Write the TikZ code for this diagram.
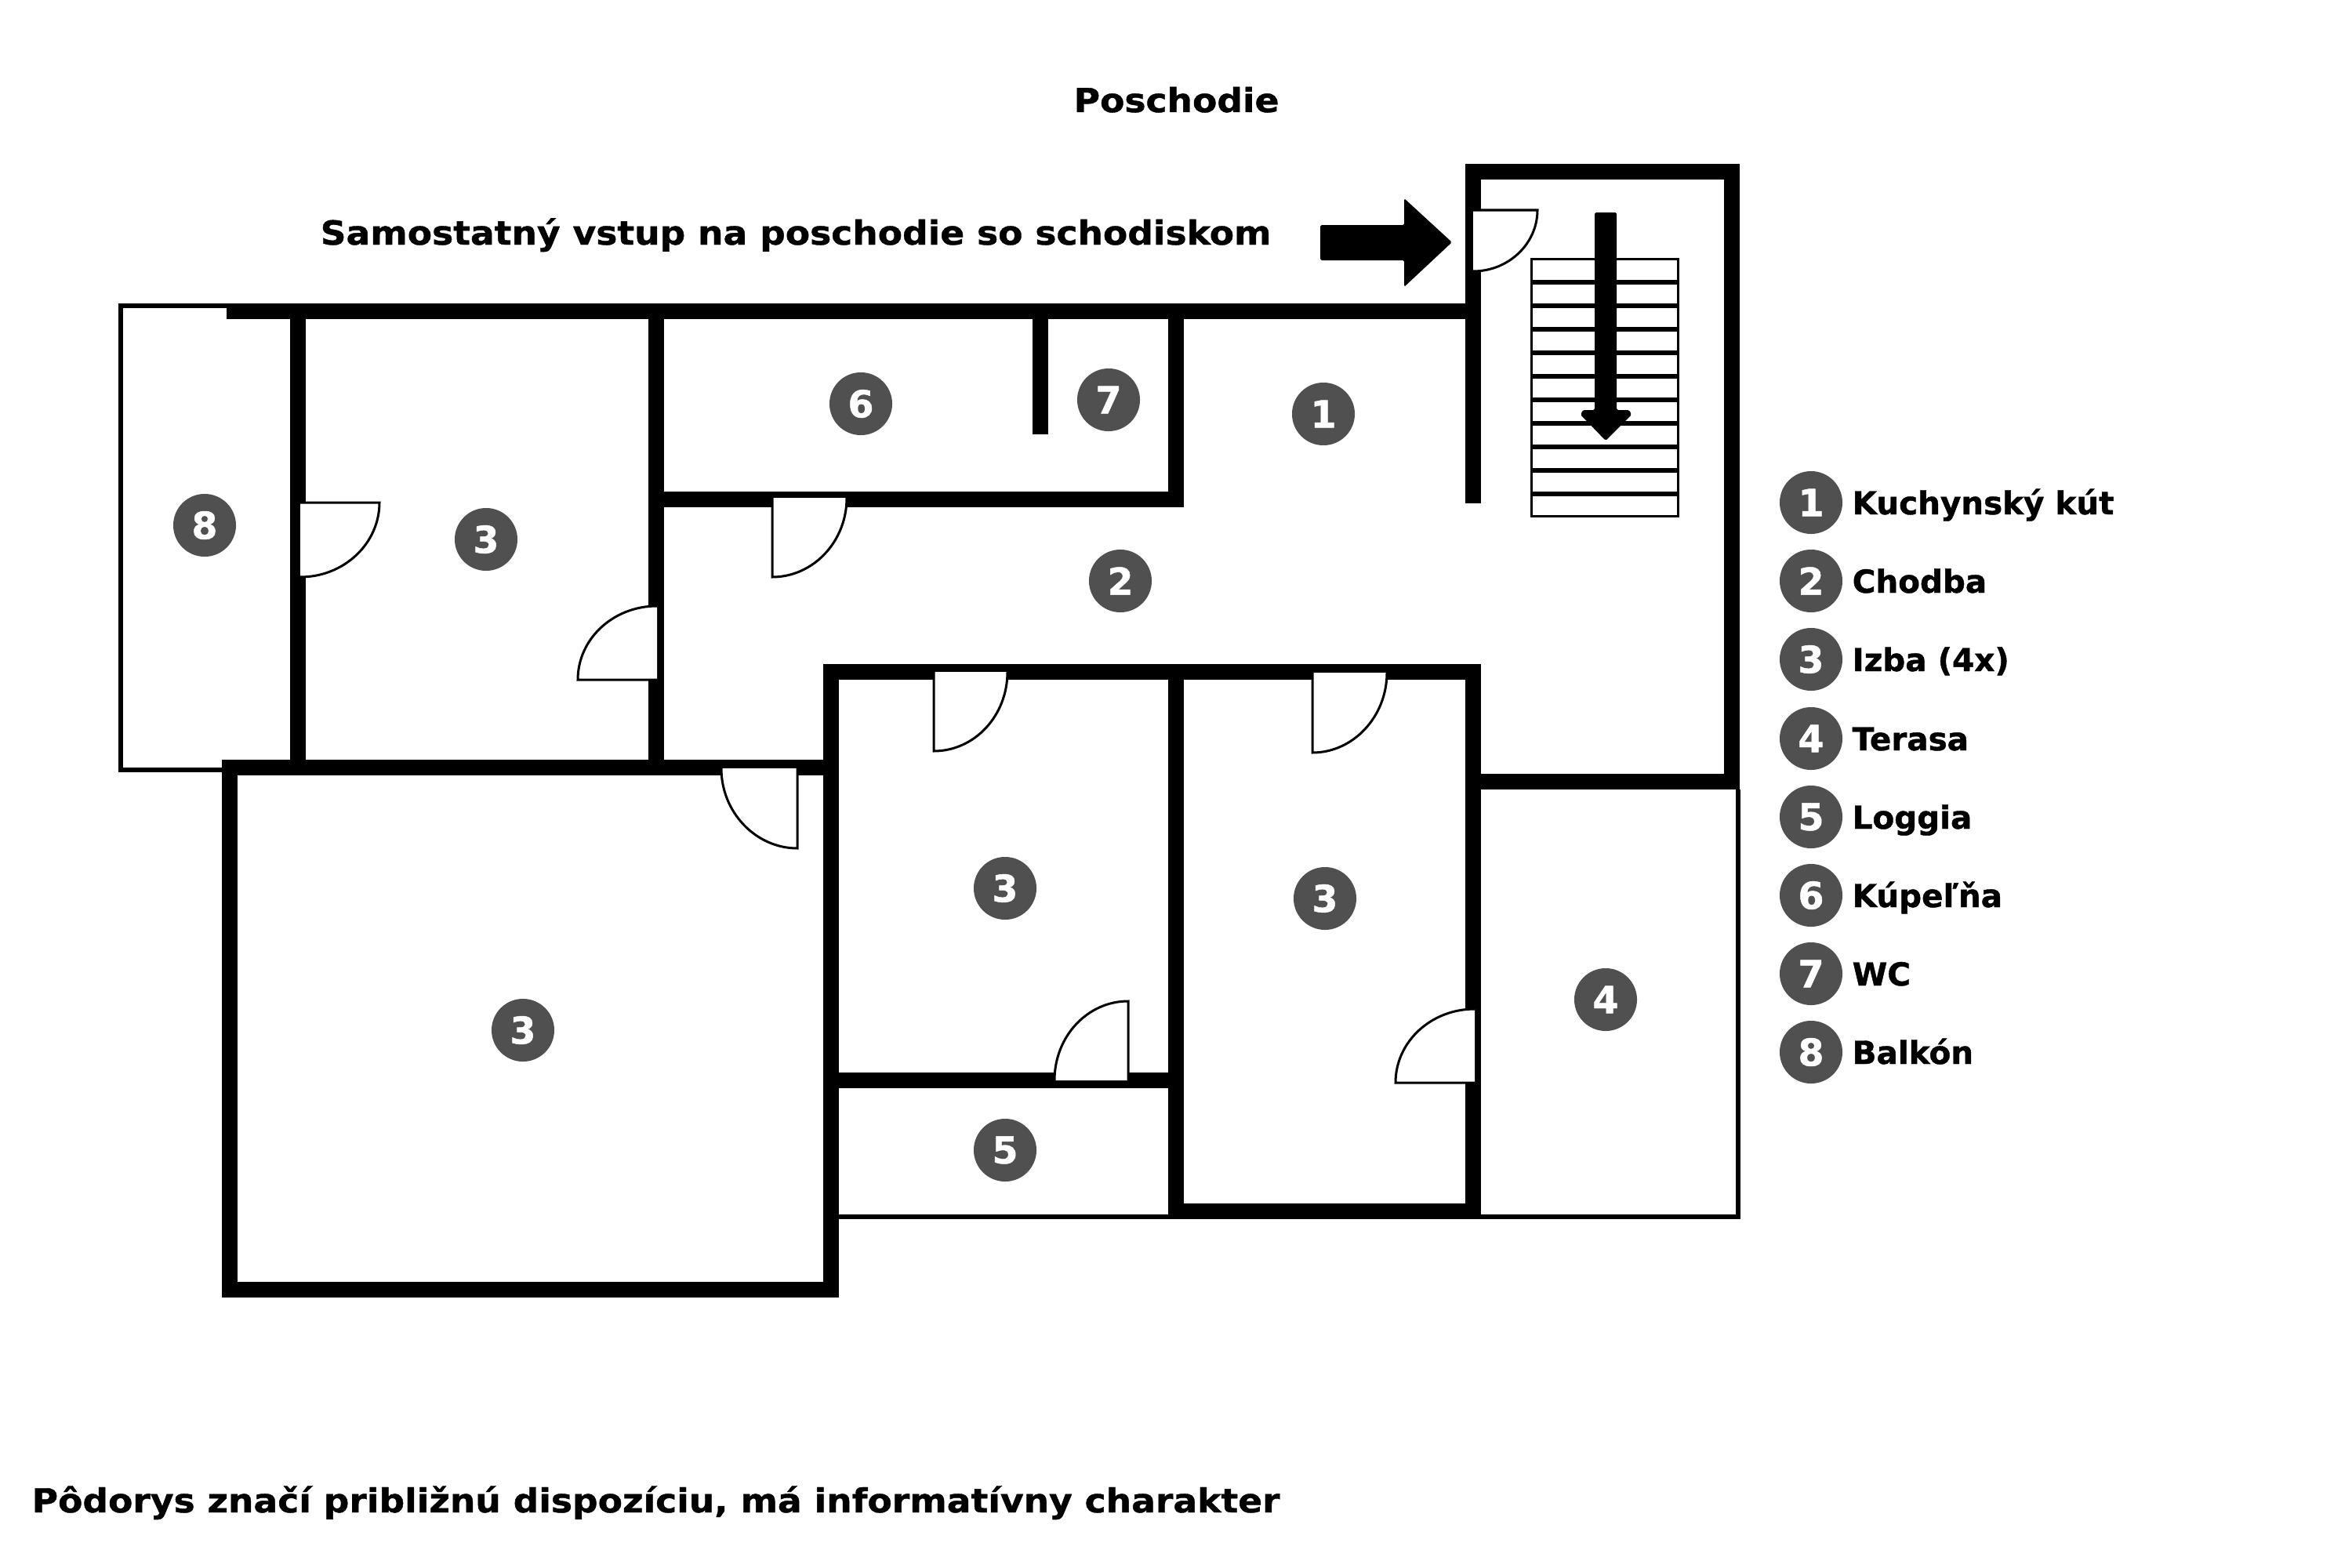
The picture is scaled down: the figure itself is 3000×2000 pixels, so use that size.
\documentclass[tikz,border=0pt]{standalone}
\usepackage{fontspec}
\setmainfont{DejaVu Sans}[BoldFeatures={FakeBold=1}]
\usepackage{xcolor}
\definecolor{numgray}{HTML}{505050}
\usepackage{tikz}
\tikzset{
  wall/.style={draw=black, line width=0.2cm, line cap=butt, miter limit=10},
  thinwall/.style={draw=black, line width=0.06cm, line cap=butt},
  stairline/.style={draw=black, line width=0.06cm, line cap=butt},
  stairbox/.style={draw=black, line width=0.03cm},
  door/.style={draw=black, fill=white, line width=0.03cm},
  bigarrow/.style={fill=black, rounded corners=0.5pt},
  num/.style={circle, fill=numgray, text=white, minimum size=0.8cm, inner sep=0pt,
    font=\bfseries\fontsize{13.5}{14}\selectfont},
  lbl/.style={anchor=base west, inner sep=0pt, text=black,
    font=\bfseries\fontsize{11.5}{14}\selectfont},
  head/.style={anchor=base west, inner sep=0pt, text=black,
    font=\bfseries\fontsize{12}{14}\selectfont\addfontfeature{FakeStretch=1.08}},
}
\begin{document}
\begin{tikzpicture}[x=0.01cm, y=-0.01cm]
  \useasboundingbox (0,0) rectangle (3000,2000);

  %titles
  \node[head] (title) at (1369,143) {Poschodie};
  \node[head] (entry) at (408,312) {Samostatný vstup na poschodie so schodiskom};
  \node[head] (note) at (40,1929) {Pôdorys značí približnú dispozíciu, má informatívny charakter};

  %balcony and terrace
  \draw[thinwall] (289,390) -- (154,390) -- (154,982) -- (283,982);
  \draw[thinwall] (1070,1552) -- (1491,1552);
  \draw[thinwall] (1889,1552) -- (2217,1552) -- (2217,1007);

  %upper rooms
  \draw[wall] (289,397) -- (1869,397);
  \draw[wall] (380,397) -- (380,979);
  \draw[wall] (837,397) -- (837,979);
  \draw[wall] (1327,397) -- (1327,554);
  \draw[wall] (847,637) -- (1500,637) -- (1500,397);

  %large room
  \draw[wall] (293,979) rectangle (1060,1645);

  %lower rooms
  \draw[wall] (1060,979) -- (1060,857) -- (1879,857) -- (1879,1545) -- (1500,1545) -- (1500,857);
  \draw[wall] (1070,1378) -- (1491,1378);

  %staircase walls
  \draw[wall] (1879,642) -- (1879,219) -- (2209,219) -- (2209,997) -- (1889,997);

  %stairs
  \draw[stairbox] (1953,330) rectangle (2140,658);
  \draw[stairline]
    (1953,360) -- (2140,360)
    (1953,390) -- (2140,390)
    (1953,420) -- (2140,420)
    (1953,450) -- (2140,450)
    (1953,480) -- (2140,480)
    (1953,510) -- (2140,510)
    (1953,540) -- (2140,540)
    (1953,570) -- (2140,570)
    (1953,600) -- (2140,600)
    (1953,630) -- (2140,630);

  %arrows
  \fill[bigarrow] (1684,287) -- (1791,287) -- (1791,253) -- (1852,309) -- (1791,366) -- (1791,332) -- (1684,332) -- cycle;
  \fill[bigarrow] (2034,271) -- (2062,271) -- (2062,523) -- (2078,523) -- (2081,529) -- (2048,562) -- (2016,529) -- (2019,523) -- (2034,523) -- cycle;

  %doors
  \path[door] (1879,268) -- (1961,268) .. controls +(0,43) and +(45,0) .. (1879,346);
  \path[door] (383,641) -- (484,641) .. controls +(0,52) and +(56,0) .. (383,736);
  \path[door] (838,867) -- (737,867) .. controls +(0,-52) and +(-56,0) .. (838,773);
  \path[door] (985,635) -- (985,736) .. controls +(52,0) and +(0,56) .. (1080,635);
  \path[door] (1017,980) -- (1017,1082) .. controls +(-53,0) and +(0,56) .. (920,980);
  \path[door] (1191,857) -- (1191,958) .. controls +(52,0) and +(0,56) .. (1285,857);
  \path[door] (1674,858) -- (1674,960) .. controls +(52,0) and +(0,56) .. (1769,858);
  \path[door] (1439,1378) -- (1439,1277) .. controls +(-52,0) and +(0,-56) .. (1345,1378);
  \path[door] (1881,1381) -- (1780,1381) .. controls +(0,-52) and +(-56,0) .. (1881,1287);

  %room numbers
  \node[num] (room1) at (1688,528) {1};
  \node[num] (room2) at (1429,741) {2};
  \node[num] (room3a) at (620,688) {3};
  \node[num] (room3b) at (667,1314) {3};
  \node[num] (room3c) at (1282,1133) {3};
  \node[num] (room3d) at (1690,1146) {3};
  \node[num] (room4) at (2048,1275) {4};
  \node[num] (room5) at (1282,1467) {5};
  \node[num] (room6) at (1098,515) {6};
  \node[num] (room7) at (1414,510) {7};
  \node[num] (room8) at (261,670) {8};

  %legend
  \node[num] (key1) at (2310,641) {1};
  \node[num] (key2) at (2310,741) {2};
  \node[num] (key3) at (2310,841) {3};
  \node[num] (key4) at (2310,942) {4};
  \node[num] (key5) at (2310,1042) {5};
  \node[num] (key6) at (2310,1142) {6};
  \node[num] (key7) at (2310,1242) {7};
  \node[num] (key8) at (2310,1342) {8};
  \node[lbl] (text1) at (2362,656) {Kuchynský kút};
  \node[lbl] (text2) at (2362,756) {Chodba};
  \node[lbl] (text3) at (2362,856) {Izba (4x)};
  \node[lbl] (text4) at (2362,957) {Terasa};
  \node[lbl] (text5) at (2362,1057) {Loggia};
  \node[lbl] (text6) at (2362,1157) {Kúpeľňa};
  \node[lbl] (text7) at (2362,1257) {WC};
  \node[lbl] (text8) at (2362,1357) {Balkón};
\end{tikzpicture}
\end{document}
